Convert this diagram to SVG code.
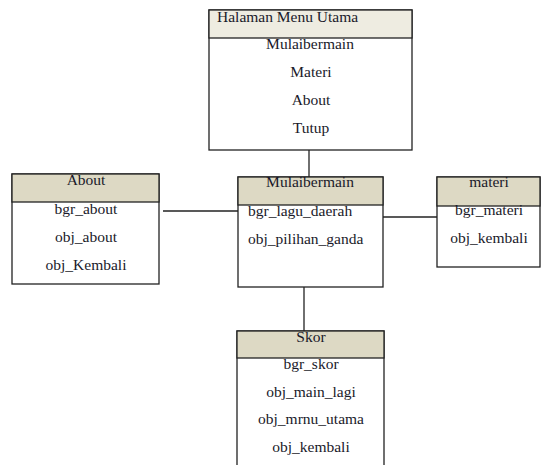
<svg xmlns="http://www.w3.org/2000/svg" width="544" height="465" viewBox="0 0 544 465">
<style>
.box{fill:#fff;stroke:#222;stroke-width:1.3}
.hd{fill:#DDD9C4;stroke:#222;stroke-width:1.3}
.hd2{fill:#EEECE1;stroke:#222;stroke-width:1.3}
text{font-family:"Liberation Serif","DejaVu Serif",serif;font-size:15.5px;fill:#1a1a2a}
.c{text-anchor:middle}
.ln{stroke:#222;stroke-width:1.3;fill:none}
</style>
<rect width="544" height="465" fill="#fff"/>
<g id="connectors">
<line class="ln" x1="309" y1="150" x2="309" y2="177"/>
<line class="ln" x1="163" y1="211" x2="238" y2="211"/>
<line class="ln" x1="383" y1="217" x2="437" y2="217"/>
<line class="ln" x1="304" y1="287" x2="304" y2="331"/>
</g>
<g id="menu">
<rect class="box" x="209" y="10" width="203" height="140"/>
<rect class="hd2" x="209" y="10" width="203" height="28"/>
<text x="217" y="22">Halaman Menu Utama</text>
<text class="c" x="310" y="49">Mulaibermain</text>
<text class="c" x="311" y="77">Materi</text>
<text class="c" x="311" y="105">About</text>
<text class="c" x="311" y="133">Tutup</text>
</g>
<g id="about">
<rect class="box" x="12" y="174" width="147" height="110"/>
<rect class="hd" x="12" y="174" width="147" height="28"/>
<text class="c" x="86" y="185">About</text>
<text class="c" x="86" y="214">bgr_about</text>
<text class="c" x="86" y="242">obj_about</text>
<text class="c" x="86" y="270">obj_Kembali</text>
</g>
<g id="mulaibermain">
<rect class="box" x="238" y="177" width="145" height="110"/>
<rect class="hd" x="238" y="177" width="145" height="28"/>
<text class="c" x="310" y="187">Mulaibermain</text>
<text x="248" y="216">bgr_lagu_daerah</text>
<text x="248" y="244">obj_pilihan_ganda</text>
</g>
<g id="materi">
<rect class="box" x="437" y="177" width="103" height="90"/>
<rect class="hd" x="437" y="177" width="103" height="29"/>
<text class="c" x="489" y="187">materi</text>
<text class="c" x="489" y="215">bgr_materi</text>
<text class="c" x="489" y="243">obj_kembali</text>
</g>
<g id="skor">
<rect class="box" x="237" y="331" width="147" height="140"/>
<rect class="hd" x="237" y="331" width="147" height="27"/>
<text class="c" x="311" y="342">Skor</text>
<text class="c" x="311" y="369">bgr_skor</text>
<text class="c" x="311" y="397">obj_main_lagi</text>
<text class="c" x="311" y="424">obj_mrnu_utama</text>
<text class="c" x="311" y="452">obj_kembali</text>
</g>
</svg>
